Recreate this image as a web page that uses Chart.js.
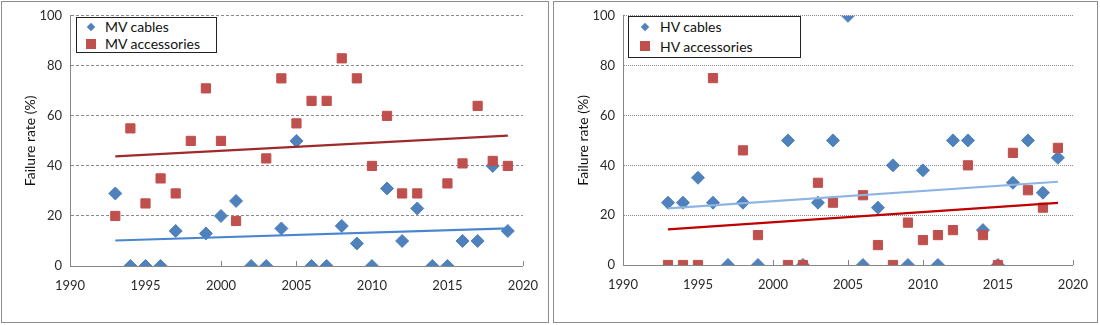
<!DOCTYPE html>
<html>
<head>
<meta charset="utf-8">
<script src="https://cdn.jsdelivr.net/npm/chart.js@4.4.1/dist/chart.umd.min.js"></script>
<style>
  body { margin: 0; background: #fff; width: 1100px; height: 325px; position: relative; overflow: hidden; font-family: Lato, sans-serif; }
  canvas { position: absolute; top: 0; }
  .panel { position: absolute; top: 1px; height: 322px; border: 1px solid #8c8c8c; box-sizing: border-box; pointer-events: none; }
  .legend { position: absolute; border: 1.5px solid #222; background: #fff; box-sizing: border-box; font-size: 14px; color: #111; }
  .legend .row { position: relative; white-space: nowrap; }
  .legend .mk { position: absolute; top: 50%; }
  .legend .dia { width: 6px; height: 6px; transform: translate(-50%, -50%) rotate(45deg); }
  .legend .sq { width: 10px; height: 10px; transform: translate(-50%, -50%); }
</style>
</head>
<body>
<canvas id="mv" width="550" height="325" style="left:0"></canvas>
<canvas id="hv" width="550" height="325" style="left:550px"></canvas>
<div class="panel" style="left:1px;width:548px"></div>
<div class="panel" style="left:553px;width:545px"></div>
<div class="legend" id="mvLegend" style="left:76px;top:17px;width:141px;height:36px"></div>
<div class="legend" id="hvLegend" style="left:628px;top:16px;width:173px;height:42px"></div>
<script>
const years = [1993, 1994, 1995, 1996, 1997, 1998, 1999, 2000, 2001, 2002, 2003, 2004, 2005, 2006,
  2007, 2008, 2009, 2010, 2011, 2012, 2013, 2014, 2015, 2016, 2017, 2018, 2019];

const mvNames = ["MV cables", "MV accessories"];
const mvCables = [29, 0, 0, 0, 14, null, 13, 20, 26, 0, 0, 15, 50, 0, 0, 16, 9, 0, 31, 10, 23, 0, 0, 10, 10, 40, 14];
const mvAccessories = [20, 55, 25, 35, 29, 50, 71, 50, 18, null, 43, 75, 57, 66, 66, 83, 75, 40, 60, 29, 29, null, 33, 41, 64, 42, 40];

const hvNames = ["HV cables", "HV accessories"];
const hvCables = [25, 25, 35, 25, 0, 25, 0, null, 50, 0, 25, 50, 100, 0, 23, 40, 0, 38, 0, 50, 50, 14, 0, 33, 50, 29, 43];
const hvAccessories = [0, 0, 0, 75, null, 46, 12, null, 0, 0, 33, 25, null, 28, 8, 0, 17, 10, 12, 14, 40, 12, 0, 45, 30, 23, 47];

// trend line ends
const trendYears = [1993, 2019];
const mvCablesTrend = [10.2, 15.0];
const mvAccTrend = [43.8, 52.1];
const hvCablesTrend = [22.7, 33.4];
const hvAccTrend = [14.3, 24.9];

const xTicks = [1990, 1995, 2000, 2005, 2010, 2015, 2020];
const yTicks = [0, 20, 40, 60, 80, 100];
const yTitle = "Failure rate (%)";

const blue = "#4F81BD";
const red = "#C0504D";

function pts(xs, ys) {
  return xs.map((x, i) => ({ x: x, y: ys[i] }));
}

// small tick marks pointing up into the plot, like the original
const innerTicks = {
  id: "innerTicks",
  beforeDatasetsDraw(chart) {
    const ctx = chart.ctx;
    const sx = chart.scales.x;
    const b = chart.chartArea.bottom;
    ctx.save();
    ctx.strokeStyle = "#868686";
    ctx.lineWidth = 1;
    sx.ticks.forEach((t) => {
      const px = Math.round(sx.getPixelForValue(t.value)) + 0.5;
      ctx.beginPath();
      ctx.moveTo(px, b);
      ctx.lineTo(px, b - 5);
      ctx.stroke();
    });
    ctx.restore();
  },
};

function makeChart(id, names, cables, acc, cTrend, aTrend, cTrendCol, aTrendCol, dash, pad) {
  return new Chart(document.getElementById(id).getContext("2d"), {
    type: "scatter",
    data: {
      datasets: [
        { label: names[0], data: pts(years, cables), pointStyle: "rectRot", pointRadius: 6.5,
          backgroundColor: blue, borderColor: blue, borderWidth: 1, order: 2 },
        { label: names[1], data: pts(years, acc), pointStyle: "rect", pointRadius: 6.5,
          backgroundColor: red, borderColor: red, borderWidth: 1, order: 1 },
        { label: "trend " + names[0], data: pts(trendYears, cTrend), showLine: true, pointRadius: 0,
          borderColor: cTrendCol, borderWidth: 2.2, order: 0 },
        { label: "trend " + names[1], data: pts(trendYears, aTrend), showLine: true, pointRadius: 0,
          borderColor: aTrendCol, borderWidth: 2.2, order: 0 },
      ],
    },
    options: {
      responsive: false,
      animation: false,
      layout: { padding: { left: pad.left, right: pad.right, top: pad.top, bottom: 0 } },
      plugins: { legend: { display: false }, tooltip: { enabled: false } },
      scales: {
        x: {
          type: "linear", min: 1990, max: 2020,
          afterBuildTicks: (s) => { s.ticks = xTicks.map((v) => ({ value: v })); },
          afterFit: (s) => { s.height = pad.bottom; },
          ticks: { color: "#2a2a2a", font: { family: "Lato", size: 13 }, padding: 12, callback: (v) => String(v) },
          grid: { drawOnChartArea: false, drawTicks: false },
          border: { color: "#868686", width: 1 },
        },
        y: {
          min: 0, max: 100,
          afterBuildTicks: (s) => { s.ticks = yTicks.map((v) => ({ value: v })); },
          afterFit: (s) => { s.width = 52; },
          ticks: { color: "#2a2a2a", font: { family: "Lato", size: 13 }, padding: 8 },
          grid: { color: "#8a8a8a", drawTicks: false, borderDash: dash },
          border: { color: "#868686", width: 1, dash: dash },
          title: { display: true, text: yTitle, color: "#111", font: { family: "Lato", size: 14 } },
        },
      },
    },
    plugins: [innerTicks],
  });
}

makeChart("mv", mvNames, mvCables, mvAccessories, mvCablesTrend, mvAccTrend,
  "#4A86D0", "#9E2B2B", [3, 2], { left: 18, right: 23, top: 12, bottom: 59 });
makeChart("hv", hvNames, hvCables, hvAccessories, hvCablesTrend, hvAccTrend,
  "#8DB4E2", "#C00000", [1, 1], { left: 21, right: 20, top: 11, bottom: 60 });

function legend(id, names, rowH, mkX, txtX) {
  const box = document.getElementById(id);
  names.forEach((n, i) => {
    const row = document.createElement("div");
    row.className = "row";
    row.style.height = rowH + "px";
    row.style.lineHeight = rowH + "px";
    row.style.paddingLeft = txtX + "px";
    const mk = document.createElement("span");
    mk.className = "mk " + (i === 0 ? "dia" : "sq");
    mk.style.left = mkX + "px";
    mk.style.background = i === 0 ? blue : red;
    row.appendChild(mk);
    row.appendChild(document.createTextNode(n));
    box.appendChild(row);
  });
}
legend("mvLegend", mvNames, 17, 14, 28);
legend("hvLegend", hvNames, 19.5, 16, 31);
</script>
</body>
</html>
